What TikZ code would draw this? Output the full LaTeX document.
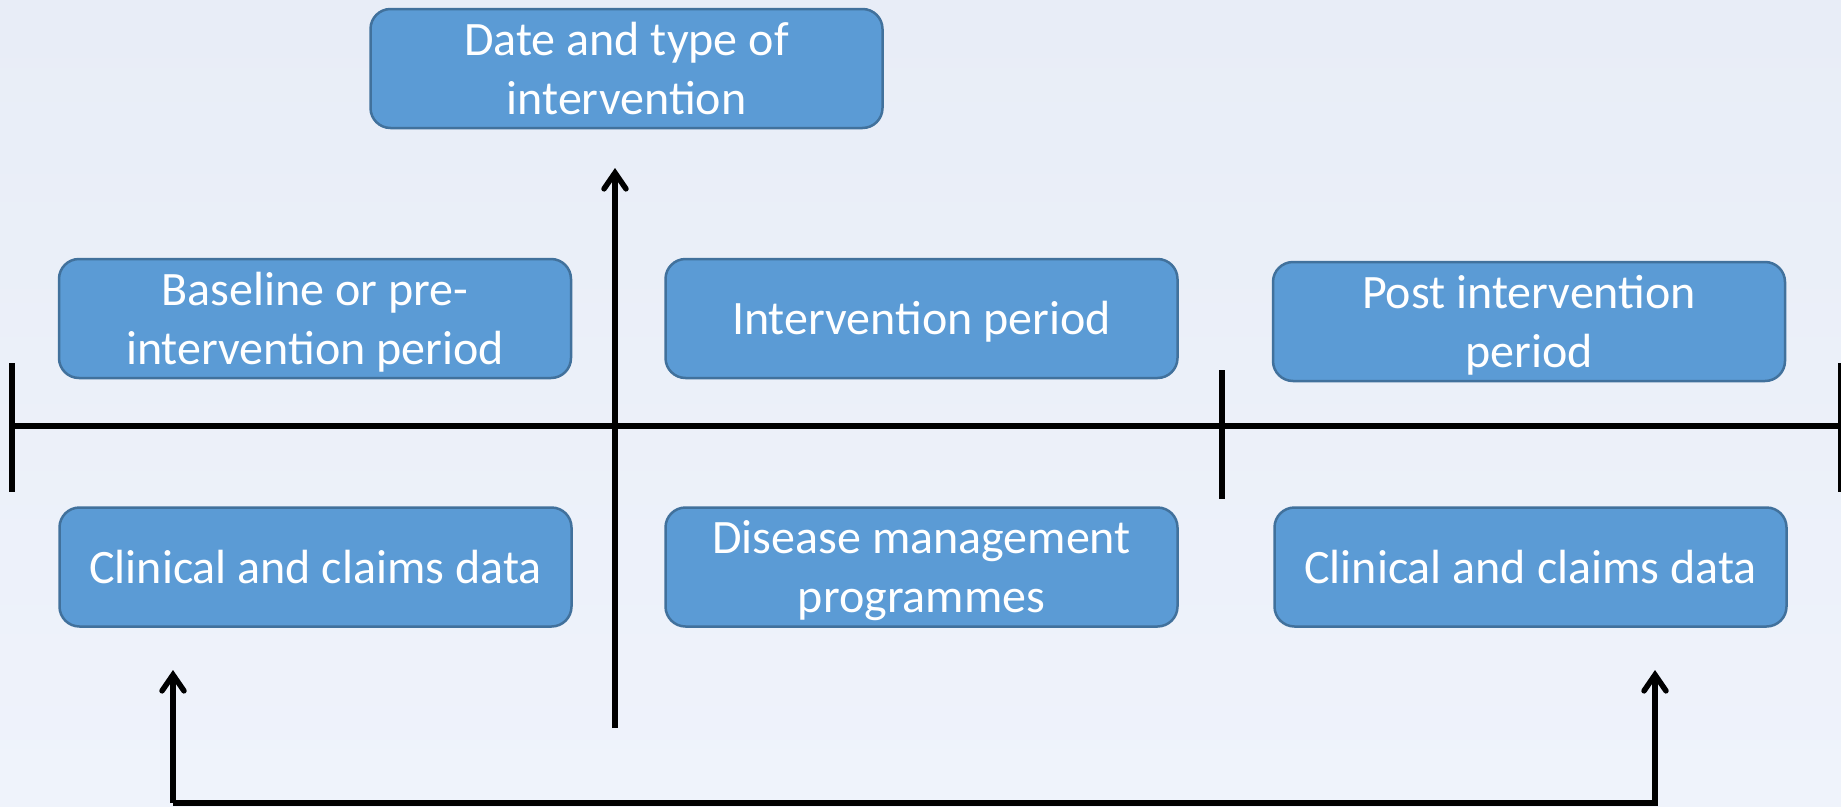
\documentclass[tikz,border=0pt]{standalone}
\usepackage{fontspec}
\setmainfont{Carlito}
\usetikzlibrary{arrows.meta}
\definecolor{boxfill}{HTML}{5B9BD5}
\definecolor{boxline}{HTML}{41719C}
\definecolor{bgA}{HTML}{E8EDF7}
\definecolor{bgB}{HTML}{EFF3FB}
\newcommand{\bxtext}[1]{\raisebox{-4.5pt}[\height][\depth]{\begin{tabular}{@{}c@{}}#1\end{tabular}}}
\tikzset{
  infobox/.style={draw=boxline, line width=2.5pt, fill=boxfill, rounded corners=20pt,
    minimum width=512pt, minimum height=119pt, text=white,
    font=\fontsize{48}{59}\selectfont, inner sep=0pt},
  axis/.style={line width=5.5pt, black},
  uparrow/.style={line width=5.5pt, black, -{Straight Barb[length=16pt,width=22pt,line width=5.5pt,line cap=round]}}
}
\begin{document}
\begin{tikzpicture}[x=1pt,y=-1pt]
\useasboundingbox (0,0) rectangle (1841,806);
\shade[top color=bgA, bottom color=bgB] (0,0) rectangle (1841,806);
% boxes
\node[infobox] (date) at (626.5,68.5) {\bxtext{Date and type of\\intervention}};
\node[infobox] (base) at (315,318.5) {\bxtext{Baseline or pre-\\intervention period}};
\node[infobox] (interv) at (921.5,318.5) {\bxtext{Intervention period}};
\node[infobox] (post) at (1529,321.5) {\bxtext{Post intervention\\period}};
\node[infobox] (clinL) at (315.5,567) {\bxtext{Clinical and claims data}};
\node[infobox] (dis) at (921.5,567) {\bxtext{Disease management\\programmes}};
\node[infobox] (clinR) at (1530.5,567) {\bxtext{Clinical and claims data}};
% timeline
\coordinate (tlL) at (12,426);
\coordinate (tlR) at (1845,426);
\draw[axis] (tlL) -- (tlR);
\coordinate (t1a) at (12,363); \coordinate (t1b) at (12,492);
\coordinate (t2a) at (1222,370); \coordinate (t2b) at (1222,499);
\coordinate (t3a) at (1841,363); \coordinate (t3b) at (1841,492);
\draw[axis] (t1a) -- (t1b);
\draw[axis] (t2a) -- (t2b);
\draw[axis] (t3a) -- (t3b);
% intervention arrow
\coordinate (vA) at (615,728);
\coordinate (vB) at (615,168);
\draw[uparrow] (vA) -- (vB);
% bottom bracket
\coordinate (bL) at (173,670);
\coordinate (bR) at (1655,670);
\coordinate (bLb) at (173,803);
\coordinate (bRb) at (1655,803);
\draw[uparrow] (bLb) -- (bRb) -- (bR);
\draw[uparrow] (bLb) -- (bL);
\end{tikzpicture}
\end{document}
